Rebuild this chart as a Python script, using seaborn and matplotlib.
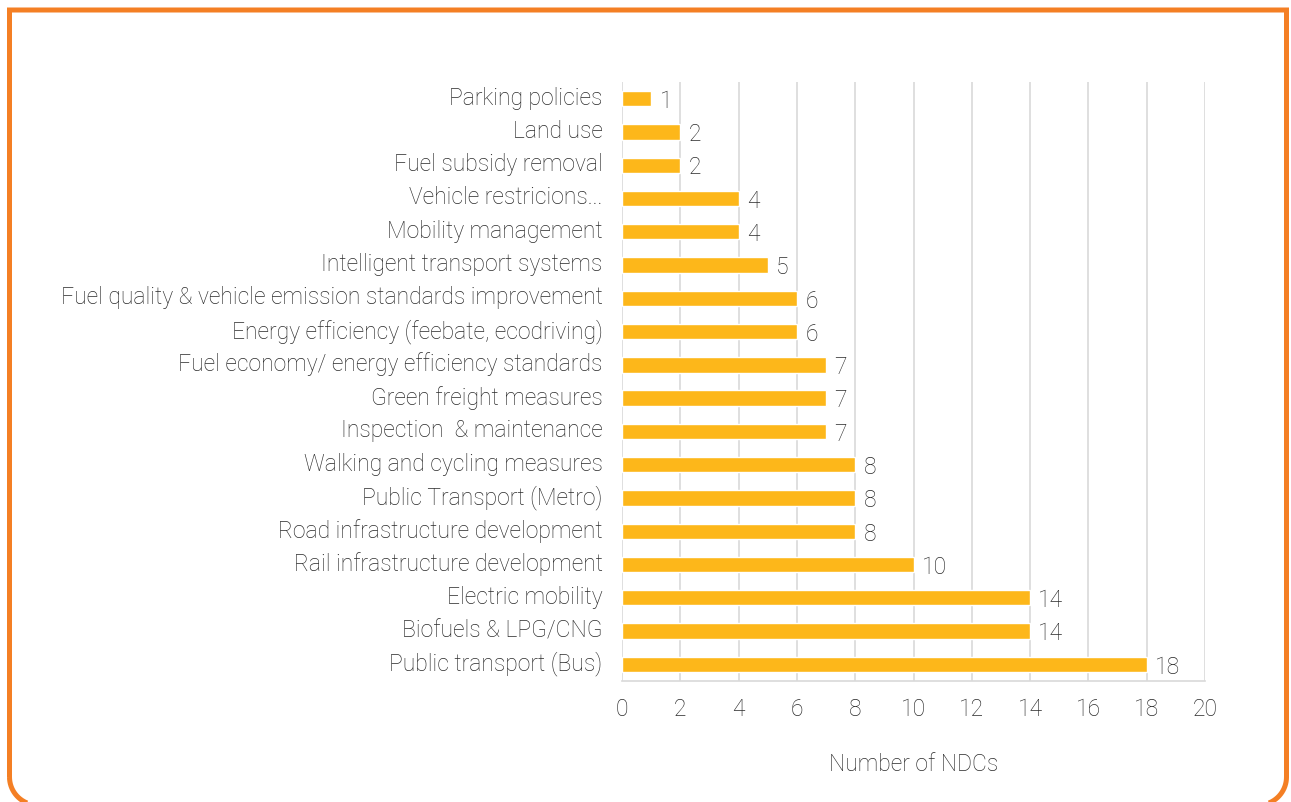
import matplotlib
matplotlib.use("Agg")
import matplotlib.pyplot as plt
import matplotlib.transforms as mtransforms
from matplotlib.path import Path
from matplotlib.patches import PathPatch
import seaborn as sns
import pandas as pd
import numpy as np

# 카테고리와 값
categories = [
    "Parking policies",
    "Land use",
    "Fuel subsidy removal",
    "Vehicle restricions...",
    "Mobility management",
    "Intelligent transport systems",
    "Fuel quality & vehicle emission standards improvement",
    "Energy efficiency (feebate, ecodriving)",
    "Fuel economy/ energy efficiency standards",
    "Green freight measures",
    "Inspection  & maintenance",
    "Walking and cycling measures",
    "Public Transport (Metro)",
    "Road infrastructure development",
    "Rail infrastructure development",
    "Electric mobility",
    "Biofuels & LPG/CNG",
    "Public transport (Bus)",
]
counts = [1, 2, 2, 4, 4, 5, 6, 6, 7, 7, 7, 8, 8, 8, 10, 14, 14, 18]
x_ticks = [0, 2, 4, 6, 8, 10, 12, 14, 16, 18, 20]

df = pd.DataFrame({"measure": categories, "ndcs": counts})

sns.set_theme(style="white")
plt.rcParams["font.family"] = ["Roboto", "DejaVu Sans"]
plt.rcParams["path.simplify"] = False

text_color = "#2A2A2A"
bar_color = "#FDB71A"
grid_color = "#D9D9D9"
frame_color = "#F47F24"
fs = 16.5
fw = "light"

W, H = 1291, 802
fig = plt.figure(figsize=(W / 100, H / 100), dpi=100)
ax = fig.add_axes([622 / W, 1 - 681 / H, (1205 - 622) / W, (681 - 82) / H])

sns.barplot(data=df, x="ndcs", y="measure", color=bar_color, width=0.46,
            saturation=1, ax=ax, zorder=3)

ax.set_xlim(0, 20)
ax.set_xticks(x_ticks)
ax.xaxis.grid(True, color=grid_color, linewidth=1.2, zorder=0)
ax.yaxis.grid(False)
for side in ["top", "right", "left"]:
    ax.spines[side].set_visible(False)
ax.spines["bottom"].set_color(grid_color)
ax.spines["bottom"].set_linewidth(1.2)

ax.tick_params(axis="x", length=0, pad=12, labelsize=fs, labelcolor=text_color)
ax.tick_params(axis="y", length=0, pad=14, labelsize=fs, labelcolor=text_color)
for lbl in ax.get_xticklabels() + ax.get_yticklabels():
    lbl.set_fontweight(fw)
# y 라벨은 막대 중심보다 살짝 위
shift_up = mtransforms.ScaledTranslation(0, 3 / 100, fig.dpi_scale_trans)
for lbl in ax.get_yticklabels():
    lbl.set_transform(lbl.get_transform() + shift_up)

ax.set_ylabel("")
ax.set_xlabel("Number of NDCs", fontsize=fs, color=text_color,
              fontweight=fw, labelpad=23)

# 막대 끝 값 라벨
for i, v in enumerate(counts):
    ax.annotate(str(v), (v, i), xytext=(6, -2), textcoords="offset points",
                ha="left", va="center", fontsize=fs, color=text_color,
                fontweight=fw)

# 주황색 테두리 (아래쪽 모서리만 둥글게)
lw_px = 5
left, right = 9.5, 1286.5
top, bottom = 10, 805
r = 28
theta = np.linspace(0, np.pi / 2, 20)
# 오른쪽 아래 모서리
br = [(right - r + r * np.cos(t), bottom - r + r * np.sin(t)) for t in theta]
# 왼쪽 아래 모서리
bl = [(left + r - r * np.sin(t), bottom - r + r * np.cos(t)) for t in theta]
pts = [(left, bottom - r), (left, top), (right, top)] + br + bl
pts = [(x / W, 1 - y / H) for x, y in pts]
frame = PathPatch(Path(pts), transform=fig.transFigure, fill=False,
                  edgecolor=frame_color, linewidth=lw_px * 0.72, zorder=10)
fig.patches.append(frame)

fig.savefig("out.png", dpi=100)
